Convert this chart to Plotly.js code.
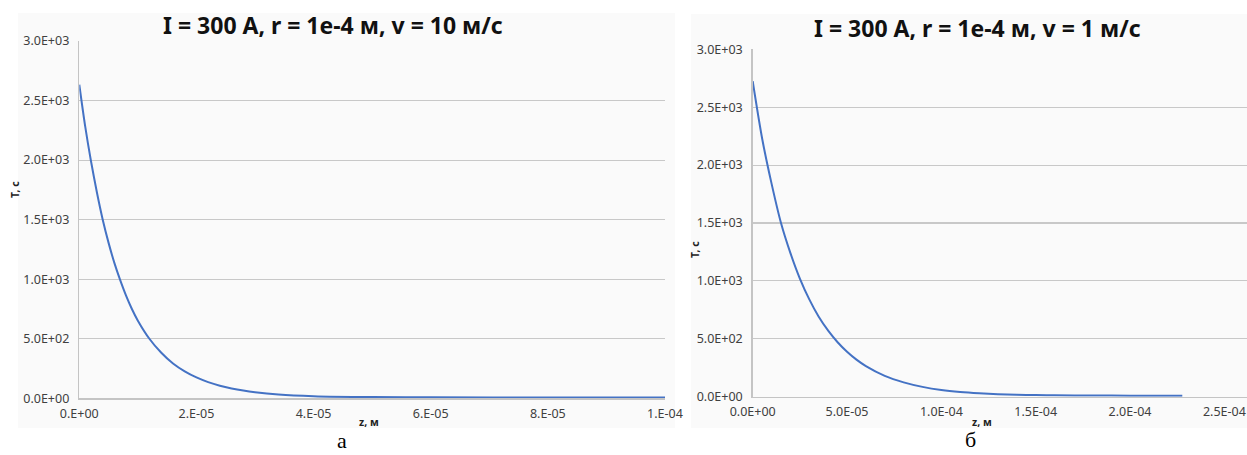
<!DOCTYPE html>
<html>
<head>
<meta charset="utf-8">
<script src="https://cdn.plot.ly/plotly-3.0.1.min.js"></script>
<style>html,body{margin:0;padding:0;background:#fff;}#chart{width:1247px;height:455px;}</style>
</head>
<body>
<div id="chart"></div>
<script>
// ---- data ----
// chart (а): v = 10 m/s
const zLeft = [0, 1e-6, 2e-6, 3e-6, 4e-6, 5e-6, 6e-6, 7e-6, 8e-6, 9e-6, 1e-5, 1.2e-5, 1.4e-5, 1.6e-5, 1.8e-5, 2e-5, 2.2e-5, 2.4e-5, 2.6e-5, 2.8e-5, 3e-5, 3.4e-5, 4e-5, 5e-5, 6e-5, 8e-5, 1e-4];
const tLeft = [2633, 2285, 1990, 1730, 1500, 1305, 1135, 990, 860, 748, 652, 498, 382, 292, 226, 175, 136, 106, 83, 65, 51, 32, 18, 10, 8, 7, 7];
// chart (б): v = 1 m/s
const zRight = [0, 5e-6, 1e-5, 1.5e-5, 2e-5, 2.5e-5, 3e-5, 3.5e-5, 4e-5, 4.5e-5, 5e-5, 5.5e-5, 6e-5, 7e-5, 8e-5, 9e-5, 1e-4, 1.1e-4, 1.2e-4, 1.3e-4, 1.4e-4, 1.5e-4, 1.6e-4, 1.8e-4, 2e-4, 2.2e-4, 2.277e-4];
const tRight = [2724, 2230, 1840, 1500, 1240, 1020, 840, 690, 570, 470, 388, 320, 264, 180, 124, 85, 58, 41, 30, 22, 17, 14, 12, 10, 9, 9, 9];

const yTickVals = [0, 500, 1000, 1500, 2000, 2500, 3000];
const yTickText = ["0.0E+00", "5.0E+02", "1.0E+03", "1.5E+03", "2.0E+03", "2.5E+03", "3.0E+03"];
const xLeftTickVals = [0, 2e-5, 4e-5, 6e-5, 8e-5, 1e-4];
const xLeftTickText = ["0.E+00", "2.E-05", "4.E-05", "6.E-05", "8.E-05", "1.E-04"];
const xRightTickVals = [0, 5e-5, 1e-4, 1.5e-4, 2e-4, 2.5e-4];
const xRightTickText = ["0.0E+00", "5.0E-05", "1.0E-04", "1.5E-04", "2.0E-04", "2.5E-04"];

const titleLeft = "I = 300 A, r = 1e-4 м, v = 10 м/с";
const titleRight = "I = 300 A, r = 1e-4 м, v = 1 м/с";
const yTitle = "T, c";
const xTitle = "z, м";
const capLeft = "а";
const capRight = "б";

// ---- layout ----
const W = 1247, H = 455;
const px = v => v / W;
const py = v => 1 - v / H;

const lineStyle = {color: '#4472c4', width: 2, shape: 'spline', smoothing: 0.8};
const tickFont = {family: 'Noto Sans, sans-serif', size: 12.5, color: '#404040'};

function yAxis(dom) {
  return {domain: dom, range: [0, 3000], tickvals: yTickVals, ticktext: yTickText,
    showgrid: true, gridcolor: '#c8c8c8', gridwidth: 1.2, zeroline: false,
    showline: true, linecolor: '#c4c4c4', linewidth: 1.5, ticks: '',
    ticklabelstandoff: 6, tickfont: tickFont, fixedrange: true};
}
function xAxis(dom, range, vals, text, anchor) {
  return {domain: dom, range: range, tickvals: vals, ticktext: text, anchor: anchor,
    showgrid: false, zeroline: false, showline: true, linecolor: '#c4c4c4', linewidth: 1.5,
    ticks: '', ticklabelstandoff: 3, tickfont: tickFont, fixedrange: true};
}

const traces = [
  {x: zLeft, y: tLeft, type: 'scatter', mode: 'lines', line: lineStyle, xaxis: 'x', yaxis: 'y', hoverinfo: 'skip'},
  {x: zRight, y: tRight, type: 'scatter', mode: 'lines', line: lineStyle, xaxis: 'x2', yaxis: 'y2', hoverinfo: 'skip'}
];

const titleFont = {family: 'Noto Sans, sans-serif', size: 23, color: '#111', weight: 'bold'};
const axTitleFont = {family: 'Noto Sans, sans-serif', size: 10.5, color: '#222', weight: 'bold'};
const capFont = {family: 'Liberation Serif, serif', size: 22, color: '#000'};

function ann(text, x, y, font, extra) {
  return Object.assign({text: text, x: px(x), y: py(y), xref: 'paper', yref: 'paper',
    xanchor: 'center', yanchor: 'middle', showarrow: false, font: font}, extra || {});
}

const layout = {
  width: W, height: H,
  margin: {l: 0, r: 0, t: 0, b: 0},
  paper_bgcolor: '#ffffff', plot_bgcolor: 'rgba(0,0,0,0)',
  showlegend: false,
  xaxis: xAxis([px(79.3), px(665)], [0, 1e-4], xLeftTickVals, xLeftTickText, 'y'),
  yaxis: yAxis([py(398.3), py(41)]),
  xaxis2: xAxis([px(752.7), 1], [0, 2.62e-4], xRightTickVals, xRightTickText, 'y2'),
  yaxis2: Object.assign(yAxis([py(396.7), py(49.3)]), {anchor: 'x2'}),
  shapes: [
    {type: 'rect', xref: 'paper', yref: 'paper', x0: px(18), x1: px(675), y0: py(428), y1: py(13),
     fillcolor: '#fafafa', line: {width: 0}, layer: 'below'},
    {type: 'rect', xref: 'paper', yref: 'paper', x0: px(691), x1: 1, y0: py(428), y1: py(14),
     fillcolor: '#fafafa', line: {width: 0}, layer: 'below'}
  ],
  annotations: [
    ann(titleLeft, 333, 25, titleFont),
    ann(titleRight, 977, 28, titleFont),
    ann(yTitle, 15, 190, axTitleFont, {textangle: -90}),
    ann(yTitle, 695, 250, axTitleFont, {textangle: -90}),
    ann(xTitle, 369, 422, axTitleFont),
    ann(xTitle, 982, 422, axTitleFont),
    ann(capLeft, 342, 440, capFont),
    ann(capRight, 970, 439, capFont)
  ]
};

Plotly.newPlot('chart', traces, layout, {displayModeBar: false, staticPlot: true});
</script>
</body>
</html>
